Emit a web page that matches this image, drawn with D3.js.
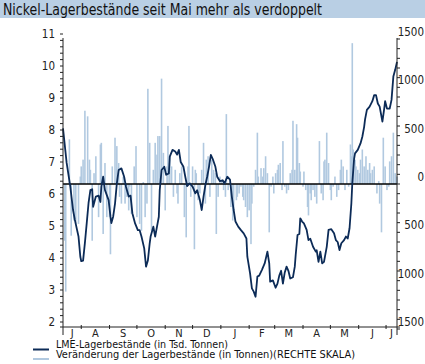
<!DOCTYPE html>
<html><head><meta charset="utf-8">
<script src="https://cdn.jsdelivr.net/npm/d3@7"></script>
<style>body{margin:0;background:#fff} svg{display:block}</style>
</head><body><svg id="c" width="425" height="364"></svg>
<script>
const title = "Nickel-Lagerbestände seit Mai mehr als verdoppelt";
const legendLabels = ["LME-Lagerbestände (in Tsd. Tonnen)", "Veränderung der Lagerbestände (in Tonnen)(RECHTE SKALA)"];
const monthLabels = ["J","A","S","O","N","D","J","F","M","A","M","J","J"];
const leftTicks = [2,3,4,5,6,7,8,9,10,11];
const rightTicks = [-1500,-1000,-500,0,500,1000,1500];

// LME stocks, thousand tonnes
const stockDates = ["2006-07-12","2006-07-16","2006-07-20","2006-07-23","2006-07-25","2006-07-29","2006-07-31","2006-08-01","2006-08-03","2006-08-05","2006-08-07","2006-08-09","2006-08-11","2006-08-13","2006-08-14","2006-08-17","2006-08-20","2006-08-22","2006-08-23","2006-08-25","2006-08-27","2006-08-31","2006-09-02","2006-09-03","2006-09-05","2006-09-07","2006-09-09","2006-09-11","2006-09-14","2006-09-17","2006-09-19","2006-09-22","2006-09-24","2006-09-26","2006-09-29","2006-10-02","2006-10-04","2006-10-06","2006-10-09","2006-10-11","2006-10-13","2006-10-15","2006-10-16","2006-10-19","2006-10-21","2006-10-23","2006-10-25","2006-10-26","2006-10-28","2006-10-31","2006-11-02","2006-11-05","2006-11-06","2006-11-09","2006-11-12","2006-11-14","2006-11-16","2006-11-18","2006-11-21","2006-11-23","2006-11-25","2006-11-28","2006-12-01","2006-12-04","2006-12-06","2006-12-09","2006-12-11","2006-12-13","2006-12-15","2006-12-17","2006-12-19","2006-12-21","2006-12-23","2006-12-26","2006-12-28","2006-12-31","2007-01-03","2007-01-05","2007-01-08","2007-01-11","2007-01-13","2007-01-15","2007-01-17","2007-01-20","2007-01-23","2007-01-26","2007-01-29","2007-01-30","2007-02-02","2007-02-04","2007-02-06","2007-02-08","2007-02-10","2007-02-12","2007-02-15","2007-02-18","2007-02-21","2007-02-23","2007-02-24","2007-02-27","2007-03-02","2007-03-04","2007-03-06","2007-03-08","2007-03-10","2007-03-12","2007-03-14","2007-03-16","2007-03-18","2007-03-21","2007-03-23","2007-03-24","2007-03-26","2007-03-28","2007-03-29","2007-03-31","2007-04-02","2007-04-05","2007-04-07","2007-04-09","2007-04-12","2007-04-15","2007-04-16","2007-04-18","2007-04-20","2007-04-22","2007-04-24","2007-04-27","2007-04-29","2007-05-02","2007-05-05","2007-05-07","2007-05-09","2007-05-11","2007-05-13","2007-05-16","2007-05-18","2007-05-20","2007-05-22","2007-05-24","2007-05-25","2007-05-27","2007-05-28","2007-05-31","2007-06-03","2007-06-05","2007-06-07","2007-06-08","2007-06-10","2007-06-13","2007-06-16","2007-06-18","2007-06-20","2007-06-22","2007-06-24","2007-06-27","2007-06-29","2007-06-30","2007-07-02","2007-07-05","2007-07-07","2007-07-09","2007-07-11","2007-07-13"];
const stockValues = [8.05,6.97,6.23,5.5,5.19,4.67,4.04,3.9,3.92,4.47,5.09,5.72,6.12,6.15,5.6,5.92,5.95,5.75,6.23,6.54,6.12,5.81,5.29,5.09,5.3,5.7,6.33,6.75,6.8,6.54,6.23,5.92,5.95,5.4,5.08,4.87,4.87,4.67,4.3,3.73,3.92,4.46,4.67,4.98,4.67,4.98,5.29,6.12,6.75,6.85,6.6,6.64,7.17,7.38,7.33,7.23,7.38,7.0,6.85,6.54,6.25,6.33,6.23,6.02,6.12,5.81,5.5,5.92,6.28,6.54,6.85,7.22,7.1,6.85,6.54,6.4,6.43,6.33,6.54,6.45,5.92,5.5,5.14,4.98,4.87,4.77,4.61,4.04,3.52,3.05,2.95,2.79,3.42,3.45,3.63,3.83,4.2,3.83,3.26,3.3,3.07,3.2,3.45,3.6,3.2,3.55,3.73,3.6,3.36,3.4,3.73,4.1,4.72,4.75,5.24,5.14,5.08,4.88,4.56,4.6,4.35,4.2,4.24,3.88,4.2,3.83,3.88,4.35,4.88,4.9,4.77,4.56,4.5,4.25,4.46,4.56,4.67,4.61,4.93,5.71,6.33,7.1,7.27,7.38,7.58,7.79,8.1,8.33,8.63,8.73,8.9,9.09,9.09,8.83,8.73,8.26,8.67,8.9,8.67,8.67,8.94,9.67,9.88,10.13];

// daily change, tonnes (right scale)
const changeDates = ["2006-07-14","2006-07-15","2006-07-19","2006-07-21","2006-07-24","2006-07-26","2006-07-29","2006-07-31","2006-08-01","2006-08-03","2006-08-05","2006-08-08","2006-08-10","2006-08-11","2006-08-13","2006-08-15","2006-08-17","2006-08-20","2006-08-22","2006-08-23","2006-08-25","2006-08-27","2006-08-29","2006-09-01","2006-09-02","2006-09-04","2006-09-07","2006-09-09","2006-09-11","2006-09-12","2006-09-14","2006-09-16","2006-09-18","2006-09-20","2006-09-22","2006-09-23","2006-09-25","2006-09-28","2006-09-30","2006-10-01","2006-10-04","2006-10-06","2006-10-08","2006-10-10","2006-10-12","2006-10-13","2006-10-15","2006-10-17","2006-10-19","2006-10-21","2006-10-23","2006-10-24","2006-10-26","2006-10-28","2006-10-30","2006-11-01","2006-11-03","2006-11-04","2006-11-06","2006-11-08","2006-11-10","2006-11-12","2006-11-14","2006-11-15","2006-11-17","2006-11-19","2006-11-22","2006-11-24","2006-11-26","2006-11-27","2006-11-29","2006-12-01","2006-12-03","2006-12-04","2006-12-05","2006-12-07","2006-12-09","2006-12-11","2006-12-13","2006-12-15","2006-12-16","2006-12-18","2006-12-20","2006-12-22","2006-12-24","2006-12-26","2006-12-27","2006-12-29","2006-12-31","2007-01-02","2007-01-04","2007-01-06","2007-01-07","2007-01-09","2007-01-12","2007-01-14","2007-01-15","2007-01-18","2007-01-19","2007-01-21","2007-01-23","2007-01-25","2007-01-26","2007-01-28","2007-01-30","2007-02-01","2007-02-03","2007-02-04","2007-02-06","2007-02-08","2007-02-10","2007-02-11","2007-02-14","2007-02-16","2007-02-17","2007-02-19","2007-02-21","2007-02-23","2007-02-25","2007-02-27","2007-02-28","2007-03-02","2007-03-04","2007-03-05","2007-03-07","2007-03-09","2007-03-10","2007-03-12","2007-03-14","2007-03-16","2007-03-18","2007-03-20","2007-03-21","2007-03-23","2007-03-25","2007-03-26","2007-03-28","2007-03-29","2007-04-01","2007-04-02","2007-04-04","2007-04-06","2007-04-07","2007-04-09","2007-04-10","2007-04-12","2007-04-14","2007-04-16","2007-04-19","2007-04-21","2007-04-23","2007-04-24","2007-04-25","2007-04-27","2007-04-29","2007-05-01","2007-05-02","2007-05-04","2007-05-06","2007-05-08","2007-05-10","2007-05-12","2007-05-13","2007-05-15","2007-05-17","2007-05-19","2007-05-21","2007-05-23","2007-05-24","2007-05-25","2007-05-26","2007-05-28","2007-05-29","2007-05-31","2007-06-02","2007-06-03","2007-06-05","2007-06-07","2007-06-09","2007-06-11","2007-06-13","2007-06-14","2007-06-16","2007-06-18","2007-06-21","2007-06-23","2007-06-24","2007-06-26","2007-06-28","2007-06-30","2007-07-02","2007-07-04","2007-07-05","2007-07-07","2007-07-09","2007-07-11","2007-07-13"];
const changeValues = [-587,-1113,462,-535,-378,-413,-413,77,182,252,758,700,252,147,-587,112,287,-343,409,426,-517,217,-343,-343,-727,182,479,392,217,-133,-203,77,-203,-133,-273,-28,-308,182,392,-343,-413,-483,20,-343,-203,985,426,-483,147,426,304,496,496,1090,322,-273,182,601,287,182,-133,147,-98,-203,112,182,-343,-552,182,601,-133,182,-675,147,112,-168,-98,147,426,-203,252,287,-133,252,147,112,-517,-133,77,42,-63,-133,723,-63,-238,-378,-273,-168,-133,-98,-28,-133,-168,-238,-343,-273,-622,-203,-28,147,531,77,164,77,164,287,112,-500,-28,77,-98,112,147,199,217,-63,444,-28,-98,-63,112,147,654,147,619,479,217,129,-28,129,-63,-238,-325,-98,-168,-63,-133,-203,444,-98,-168,234,252,531,217,-63,-168,-28,77,-133,-63,147,252,182,-63,147,-28,409,287,1457,357,252,182,147,112,252,357,182,287,147,217,112,147,182,-98,30,-203,-500,479,182,-63,-28,234,287,531,112,77];

const FONT = "'Liberation Sans Narrow','DejaVu Sans Condensed','DejaVu Sans',sans-serif";
const svg = d3.select("#c");
const parse = d3.utcParse("%Y-%m-%d");
const t0 = parse("2006-07-12"), t1 = parse("2007-07-13");
const x = d3.scaleUtc().domain([t0, t1]).range([63, 397]);
const yL = d3.scaleLinear().domain([2, 11]).range([322, 34]);
const yR = d3.scaleLinear().domain([-1500, 1500]).range([329, 39]);

function fit(sel, w) {
  const L = sel.node().getComputedTextLength();
  if (Math.abs(L - w) > 1) sel.attr("textLength", w).attr("lengthAdjust", "spacingAndGlyphs");
}

// title bar
svg.append("rect").attr("x", 0).attr("y", 0).attr("width", 425).attr("height", 18).attr("fill", "#b9cfe4");
fit(svg.append("text").attr("x", 3).attr("y", 14.5).attr("font-family", FONT).attr("font-size", 15)
  .attr("fill", "#111").text(title), 319);

// bars
const bars = changeDates.map((d, i) => ({ d: parse(d), v: changeValues[i] }));
svg.append("g").selectAll("rect").data(bars).join("rect")
  .attr("x", d => x(d.d) - 0.8).attr("width", 1.6)
  .attr("y", d => Math.min(yR(d.v), yR(0)))
  .attr("height", d => Math.abs(yR(d.v) - yR(0)))
  .attr("fill", "#b1c9e0");

// zero line
svg.append("line").attr("x1", 63).attr("x2", 397).attr("y1", yR(0)).attr("y2", yR(0))
  .attr("stroke", "#000").attr("stroke-width", 1.4);

// stock line
const pts = stockDates.map((d, i) => ({ d: parse(d), v: stockValues[i] }));
svg.append("path").datum(pts)
  .attr("d", d3.line().x(d => x(d.d)).y(d => yL(d.v)))
  .attr("fill", "none").attr("stroke", "#0c2b57").attr("stroke-width", 1.8).attr("stroke-linejoin", "round");

// left axis
const axL = svg.append("g");
axL.append("line").attr("x1", 63).attr("x2", 63).attr("y1", 38).attr("y2", 335).attr("stroke", "#222");
const minorL = d3.range(2, 11.001, 0.2);
axL.selectAll(".mt").data(minorL).join("line")
  .attr("x1", 60).attr("x2", 63).attr("y1", d => yL(d)).attr("y2", d => yL(d)).attr("stroke", "#222");
axL.selectAll("text").data(leftTicks).join("text")
  .attr("x", 55).attr("y", d => yL(d)).attr("dy", "0.36em").attr("text-anchor", "end")
  .attr("font-family", FONT).attr("font-size", 11.5).attr("fill", "#222").text(d => d);

// right axis
const axR = svg.append("g");
axR.append("line").attr("x1", 397).attr("x2", 397).attr("y1", 38).attr("y2", 335).attr("stroke", "#222");
const minorR = d3.range(-1500, 1501, 100);
axR.selectAll(".mt").data(minorR).join("line")
  .attr("x1", 397).attr("x2", 400).attr("y1", d => yR(d)).attr("y2", d => yR(d)).attr("stroke", "#222");
axR.selectAll("text").data(rightTicks).join("text")
  .attr("x", 424).attr("y", d => yR(d) - 3).attr("text-anchor", "end")
  .attr("font-family", FONT).attr("font-size", 11.5).attr("fill", "#222").text(d => Math.abs(d));

// x axis
const axX = svg.append("g");
axX.append("line").attr("x1", 60).attr("x2", 400).attr("y1", 327).attr("y2", 327).attr("stroke", "#222");
const months = d3.utcMonth.range(d3.utcMonth.floor(t0), t1);
const mTicks = d3.utcMonth.range(d3.utcMonth.ceil(t0), t1);
axX.selectAll(".mt").data(mTicks).join("line")
  .attr("x1", d => x(d)).attr("x2", d => x(d)).attr("y1", 325).attr("y2", 329).attr("stroke", "#222");
axX.selectAll("text").data(months).join("text")
  .attr("x", d => {
    const a = Math.max(+t0, +d), b = Math.min(+t1, +d3.utcMonth.offset(d, 1));
    return (x(new Date(a)) + x(new Date(b))) / 2;
  })
  .attr("y", 337).attr("text-anchor", "middle").attr("font-family", FONT).attr("font-size", 11)
  .attr("fill", "#222").text((d, i) => monthLabels[i]);

// legend
const lg = svg.append("g");
lg.append("line").attr("x1", 33).attr("x2", 49).attr("y1", 349.5).attr("y2", 349.5).attr("stroke", "#0c2b57").attr("stroke-width", 2);
lg.append("line").attr("x1", 33).attr("x2", 49).attr("y1", 359).attr("y2", 359).attr("stroke", "#b1c9e0").attr("stroke-width", 2);
fit(lg.append("text").attr("x", 56).attr("y", 347.5).attr("font-family", FONT).attr("font-size", 10)
  .attr("fill", "#111").text(legendLabels[0]), 172);
fit(lg.append("text").attr("x", 56).attr("y", 358).attr("font-family", FONT).attr("font-size", 10)
  .attr("fill", "#111").text(legendLabels[1]), 299);
</script></body></html>
